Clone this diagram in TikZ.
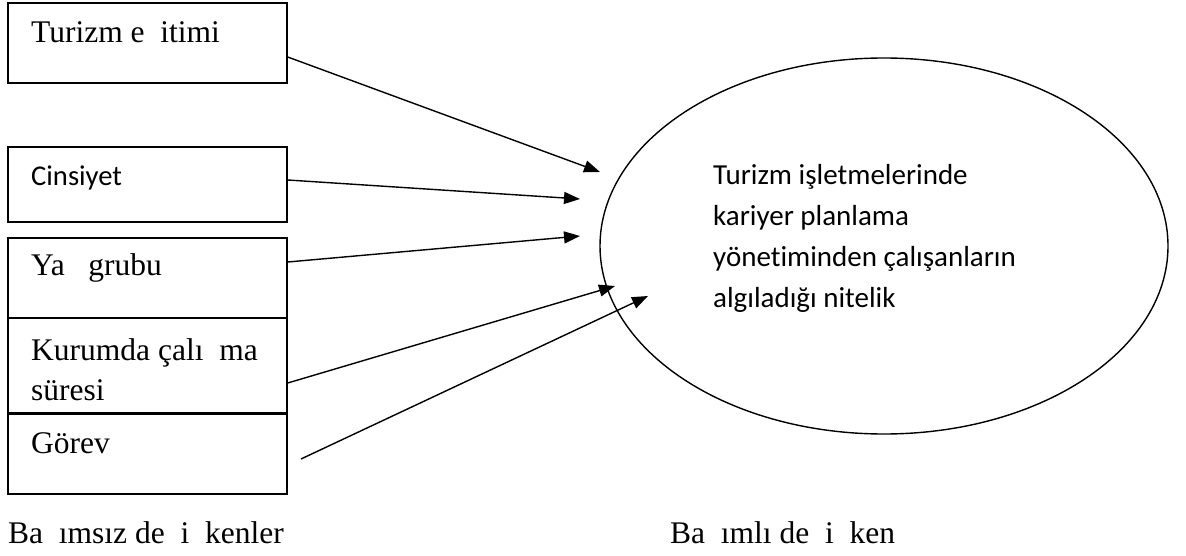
\documentclass[tikz,border=0pt]{standalone}
\usepackage{fontspec}
\setmainfont{Liberation Serif}
\newfontfamily\calibri[Ligatures=NoCommon]{Carlito}
\usetikzlibrary{arrows.meta, shapes.geometric}

\begin{document}
\begin{tikzpicture}[x=1pt, y=-1pt, >={Triangle[length=16pt,width=12pt]},
  box/.style={draw, line width=1.4pt, minimum width=279pt, inner sep=0pt},
  lbl/.style={anchor=base west, inner sep=0pt, font=\fontsize{31.5}{36}\selectfont},
  link/.style={->, line width=1.4pt}]
  \useasboundingbox (0,0) rectangle (1186,556);
  % independent variables
  \node[box, minimum height=80pt] (egitim) at (147.5,43) {};
  \node[box, minimum height=75pt] (cinsiyet) at (147.5,184.5) {};
  \node[box, minimum height=80pt] (yas) at (147.5,278) {};
  \node[box, minimum height=95pt] (sure) at (147.5,365.5) {};
  \node[box, minimum height=80pt] (gorev) at (147.5,454) {};
  \node[lbl] (t-egitim) at (31,43) {Turizm e\ \ itimi};
  \node[lbl, font=\calibri\fontsize{28.6}{34}\selectfont] (t-cinsiyet) at (31,186) {Cinsiyet};
  \node[lbl] (t-yas) at (31,276) {Ya\ \ \ grubu};
  \node[lbl] (t-sure1) at (31,360) {Kurumda çalı\ \ ma};
  \node[lbl] (t-sure2) at (31,400) {süresi};
  \node[lbl] (t-gorev) at (31,453) {Görev};
  % dependent variable
  \node[draw, ellipse, line width=1.4pt, minimum width=568pt, minimum height=376pt] (nitelik) at (884,246) {};
  \node[anchor=base west, inner sep=0pt, align=left,
    font=\calibri\fontsize{29}{40.7}\selectfont] (t-nitelik) at (713,307)
    {Turizm işletmelerinde\\kariyer planlama\\yönetiminden çalışanların\\algıladığı nitelik};
  % captions
  \node[lbl] (bagimsiz) at (8,543) {Ba\ \ ımsız de\ \ i\ \ kenler};
  \node[lbl] (bagimli) at (670,543) {Ba\ \ ımlı de\ \ i\ \ ken};
  % arrows
  \coordinate (e1) at (600,172);
  \coordinate (e2) at (580,199);
  \coordinate (e3) at (580,236);
  \coordinate (e4) at (615,286);
  \coordinate (e5) at (648,296);
  \coordinate (s5) at (301,459);
  \draw[link] ([yshift=-14pt]egitim.east) -- (e1);
  \draw[link] ([yshift=4.5pt]cinsiyet.east) -- (e2);
  \draw[link] ([yshift=16pt]yas.east) -- (e3);
  \draw[link] ([yshift=-17.5pt]sure.east) -- (e4);
  \draw[link] (s5) -- (e5);
\end{tikzpicture}
\end{document}
